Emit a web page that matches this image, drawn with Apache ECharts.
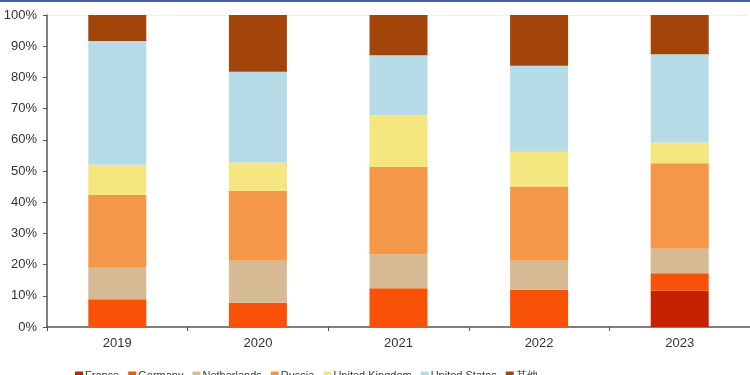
<!DOCTYPE html>
<html><head><meta charset="utf-8">
<script src="https://cdn.jsdelivr.net/npm/echarts@6/dist/echarts.min.js"></script>
<style>html,body{margin:0;padding:0;background:#fff}#c{width:750px;height:375px}</style>
</head><body><div id="c"></div>
<script>
const categories = ['2019','2020','2021','2022','2023'];
const france = [0, 0, 0, 0, 11.6];
const germany = [8.9, 7.8, 12.4, 11.9, 5.6];
const netherlands = [10.1, 13.4, 10.9, 9.3, 7.9];
const russia = [23.3, 22.5, 28.1, 23.8, 27.4];
const uk = [9.7, 9.0, 16.5, 11.2, 6.6];
const us = [39.7, 29.1, 19.2, 27.5, 28.3];
const other = [8.3, 18.2, 12.9, 16.3, 12.6];
const seriesNames = ['France','Germany','Netherlands','Russia','United Kingdom','United States','其他'];
const seriesData = [france, germany, netherlands, russia, uk, us, other];
const colors = ['#C42200','#F75208','#D6BA94','#F59748','#F5E680','#B5DCE6','#A3440A'];

const chart = echarts.init(document.getElementById('c'));
const font = '"Liberation Sans", Arial, sans-serif';
chart.setOption({
  animation: false,
  textStyle: {fontFamily: font},
  color: colors,
  grid: {left: 47, right: 0, top: 15, bottom: 48},
  legend: {
    data: seriesNames, left: 70, top: 365, itemWidth: 8, itemHeight: 8, itemGap: 9,
    icon: 'rect',
    textStyle: {fontSize: 11, color: '#333', fontFamily: font, padding: [0,0,0,-3]}
  },
  xAxis: {
    type: 'category', data: categories,
    axisLine: {lineStyle: {color: '#555', width: 1.5}},
    axisTick: {show: true, length: 4, lineStyle: {color: '#555'}},
    axisLabel: {fontSize: 13, color: '#333', margin: 10}
  },
  yAxis: {
    type: 'value', min: 0, max: 100, interval: 10,
    axisLine: {show: true, lineStyle: {color: '#555', width: 1.5}},
    axisTick: {show: true, length: 4, lineStyle: {color: '#555'}},
    splitLine: {show: false},
    axisLabel: {fontSize: 13, color: '#333', margin: 10, formatter: '{value}%'}
  },
  graphic: [
    {type: 'rect', shape: {x: 0, y: 0, width: 750, height: 2}, style: {fill: '#4A5BA8'}},
    {type: 'line', shape: {x1: 47, y1: 15.5, x2: 748, y2: 15.5}, style: {stroke: '#eee', lineWidth: 1}}
  ],
  series: seriesNames.map((n, i) => ({
    name: n, type: 'bar', stack: 'a', data: seriesData[i], barWidth: 58,
    itemStyle: {color: colors[i]}
  }))
});
</script></body></html>
